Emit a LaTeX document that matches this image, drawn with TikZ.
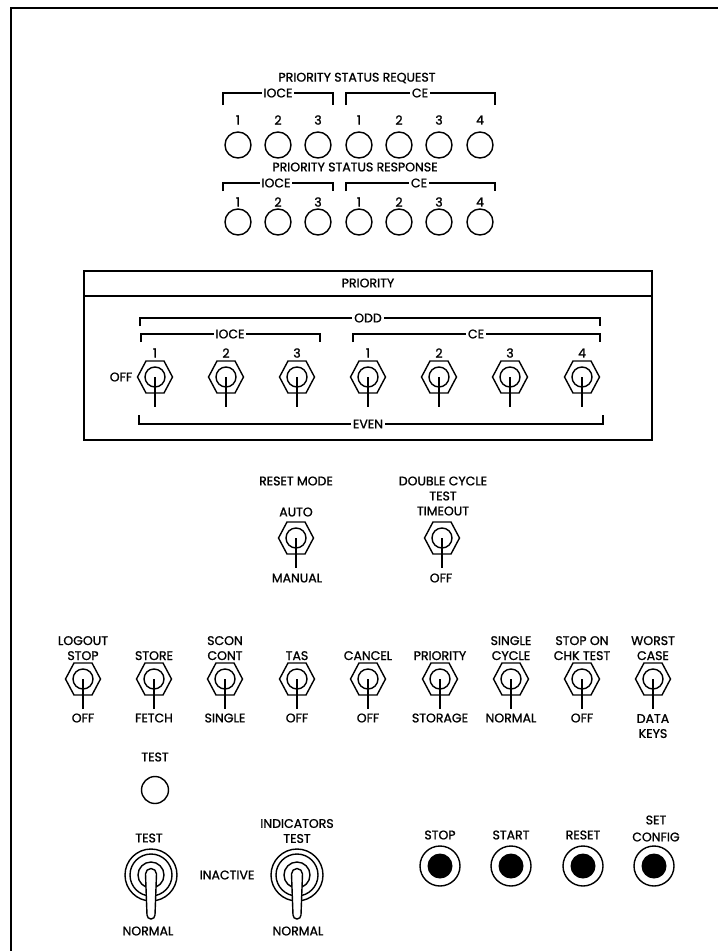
\documentclass[tikz,border=0pt]{standalone}
\usepackage{fontspec}
\setmainfont{Poppins}[FakeBold=1.2]
\begin{document}
\begin{tikzpicture}[x=1pt,y=-1pt,
  lbl/.style={font=\fontsize{12.5}{15}\selectfont, inner sep=0pt, align=center},
  brk/.style={line width=1.3pt},
  brklbl/.style={lbl, fill=white, inner xsep=2pt, inner ysep=1pt},
  lamp/.style={circle, draw, line width=1.4pt, minimum size=26pt, inner sep=0pt},
  ln/.style={line width=1.4pt},
  tgl/.pic={
    \draw[ln] (-17.5,0) -- (-9,-16) -- (9,-16) -- (17.5,0) -- (9,16) -- (-9,16) -- cycle;
    \draw[ln] (0,0) circle (10);
    \draw[line width=2.8pt] (0,0) -- (0,30);
  },
  bigtgl/.pic={
    \draw[ln] (0,0) circle (26);
    \draw[ln] (0,0) circle (21);
    \draw[ln] (0,0) circle (13);
    \draw[ln, fill=white] (-5.5,-1) arc (180:360:5.5) -- (4,40) arc (0:180:4) -- cycle;
  },
  btn/.pic={
    \draw[ln] (0,0) circle (20);
    \fill (0,0) circle (12.5);
  }
]
\useasboundingbox (0,0) rectangle (718,951);
% frame
\draw[line width=1.8pt] (11,951) -- (11,8) -- (718,8);

% ---------- priority status request ----------
\node[lbl] (psreq) at (357,78) {PRIORITY STATUS REQUEST};
\draw[brk] (223,105) -- (223,93) -- (333,93) -- (333,105);
\draw[brk] (346,105) -- (346,93) -- (495,93) -- (495,105);
\node[brklbl] (rqioce) at (278,93) {IOCE};
\node[brklbl] (rqce) at (420,93) {CE};
\foreach \x/\t [count=\i] in {238/1,278/2,318/3,359/1,399/2,439/3,480/4}{
  \node[lbl] (rqn\i) at (\x,120) {\t};
  \node[lamp] (rql\i) at (\x,145) {};
}
% ---------- priority status response ----------
\node[lbl] (psresp) at (355,167) {PRIORITY STATUS RESPONSE};
\draw[brk] (223,191) -- (223,183) -- (333,183) -- (333,191);
\draw[brk] (346,191) -- (346,183) -- (495,183) -- (495,191);
\node[brklbl] (rsioce) at (276,183) {IOCE};
\node[brklbl] (rsce) at (419,183) {CE};
\foreach \x/\t [count=\i] in {238/1,278/2,318/3,359/1,399/2,439/3,480/4}{
  \node[lbl] (rsn\i) at (\x,202) {\t};
  \node[lamp] (rsl\i) at (\x,222) {};
}

% ---------- priority box ----------
\draw[line width=1.5pt] (84,271) rectangle (652,440);
\draw[line width=1.5pt] (84,296) -- (652,296);
\node[lbl] (prio) at (368,283) {PRIORITY};
\draw[brk] (140,326) -- (140,318) -- (600,318) -- (600,326);
\node[brklbl] (odd) at (368,318) {ODD};
\draw[brk] (141,342) -- (141,334) -- (320,334) -- (320,342);
\node[brklbl] (pioce) at (230,334) {IOCE};
\draw[brk] (353,342) -- (353,334) -- (600,334) -- (600,342);
\node[brklbl] (pce) at (476,334) {CE};
\foreach \x/\t [count=\i] in {155/1,226/2,297/3,368/1,439/2,510/3,582/4}{
  \node[lbl] (pn\i) at (\x,353) {\t};
  \pic at (\x,377) {tgl};
}
\node[lbl] (poff) at (121,377) {OFF};
\draw[brk] (139,415) -- (139,424) -- (603,424) -- (603,415);
\node[brklbl] (even) at (368,424) {EVEN};

% ---------- reset mode / double cycle ----------
\node[lbl] (rmode) at (296,481) {RESET MODE};
\node[lbl] (auto) at (296,512) {AUTO};
\pic at (296,538) {tgl};
\node[lbl] (manual) at (297,578) {MANUAL};
\node[lbl] (dcyc) at (443,496) {DOUBLE CYCLE\\TEST\\TIMEOUT};
\pic at (442,538) {tgl};
\node[lbl] (dcoff) at (441,578) {OFF};

% ---------- toggle row ----------
\foreach \x/\top/\bot [count=\i] in {
  83/{LOGOUT\\STOP}/OFF,
  154/STORE/FETCH,
  225/{SCON\\CONT}/SINGLE,
  297/TAS/OFF,
  368/CANCEL/OFF,
  440/PRIORITY/STORAGE,
  511/{SINGLE\\CYCLE}/NORMAL,
  582/{STOP ON\\CHK TEST}/OFF}{
  \node[lbl, anchor=base] (rt\i) at (\x,660) {\top};
  \pic at (\x,679) {tgl};
  \node[lbl] (rb\i) at (\x,718) {\bot};
}
\node[lbl, anchor=base] (rt9) at (653,660) {WORST\\CASE};
\pic at (653,679) {tgl};
\node[lbl, anchor=north] (rb9) at (653,714) {DATA\\KEYS};

% ---------- bottom ----------
\node[lbl] (testl) at (155,757) {TEST};
\node[lamp, minimum size=27pt] (testlamp) at (155,790) {};
\node[lbl] (t1top) at (149,838) {TEST};
\pic at (151,875) {bigtgl};
\node[lbl] (t1bot) at (148,931) {NORMAL};
\node[lbl] (inact) at (227,875) {INACTIVE};
\node[lbl] (t2top) at (297,831) {INDICATORS\\TEST};
\pic at (297,875) {bigtgl};
\node[lbl] (t2bot) at (298,931) {NORMAL};

\foreach \x/\t [count=\i] in {440/STOP,511/START,583/RESET}{
  \node[lbl] (bl\i) at (\x,835) {\t};
  \pic at (\x,866) {btn};
}
\node[lbl, font=\fontsize{12.5}{17}\selectfont] (bl4) at (656,828.5) {SET\\CONFIG};
\pic at (654,866) {btn};
\end{tikzpicture}
\end{document}
